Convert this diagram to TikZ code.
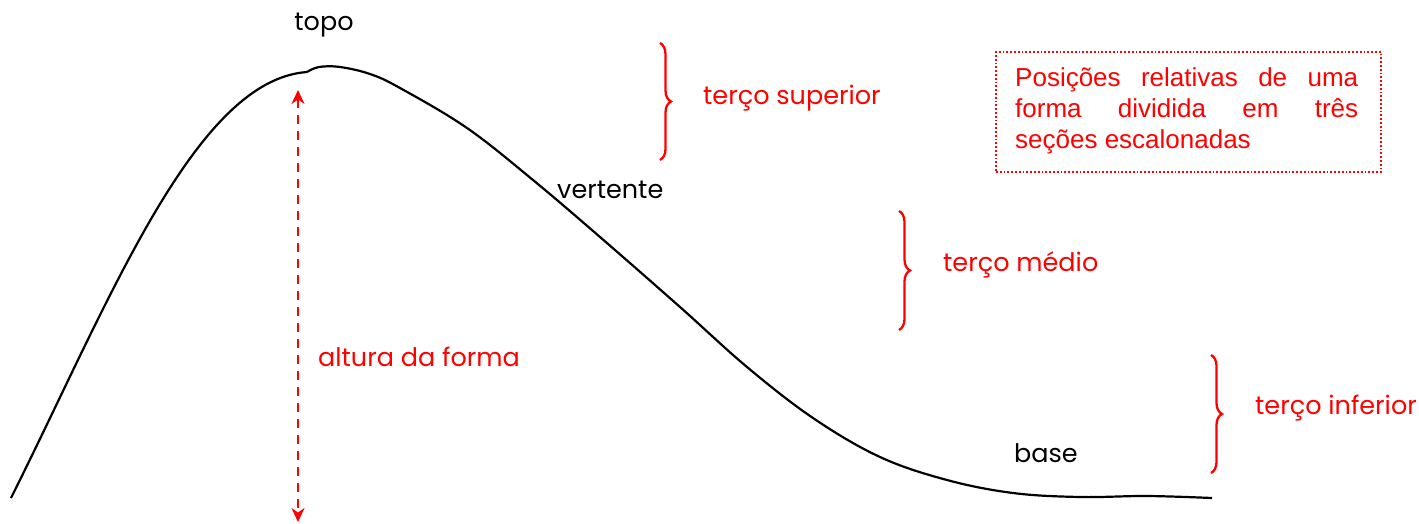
\documentclass[tikz,border=0pt]{standalone}
\usepackage{fontspec}
\setmainfont{Liberation Sans}
\newfontfamily\gothic{Poppins}
\usetikzlibrary{arrows.meta,decorations.pathreplacing}
\definecolor{lred}{RGB}{255,0,0}
\tikzset{
  lbl/.style={font=\gothic\fontsize{25.5}{28}\selectfont, inner sep=0pt},
  redlbl/.style={lbl, text=lred, anchor=west},
  bracestyle/.style={draw=lred, line width=2.3pt, decorate, decoration={brace, amplitude=11pt}},
  curve/.style={draw=black, line width=2.2pt, line join=round},
}
\begin{document}
\begin{tikzpicture}[x=1pt,y=-1pt]
\useasboundingbox (0,0) rectangle (1419,523);
% shape outline
\coordinate (start) at (11,498);
\coordinate (kink) at (307,72);
\draw[curve] (start) .. controls (110,300) and (195,80) .. (kink);
\draw[curve] plot[smooth, tension=0.6] coordinates {(307,72) (319,67) (340,67) (370,74) (400,88) (467,128) (533,180) (600,237) (680,307) (747,367) (813,418) (880,457) (947,480) (1013,493) (1080,497) (1147,496) (1212,498)};
% height arrow
\coordinate (atop) at (298,90);
\coordinate (abot) at (298,522);
\draw[lred, line width=2.6pt, dash pattern=on 9pt off 7pt, {Stealth[length=14pt,width=13pt]}-{Stealth[length=14pt,width=13pt]}] (atop) -- (abot);
% labels
\node[lbl, anchor=base] (topo) at (324,30) {topo};
\node[lbl, anchor=base west] (vert) at (557,198) {vertente};
\node[lbl, anchor=base west] (base) at (1014,462) {base};
\node[redlbl, anchor=base west] (alt) at (318,366) {altura da forma};
% braces
\coordinate (b1t) at (660,43); \coordinate (b1b) at (660,160);
\draw[bracestyle] (b1t) -- (b1b);
\node[redlbl, anchor=base west] (ts) at (703,104) {terço superior};
\coordinate (b2t) at (899,211); \coordinate (b2b) at (899,330);
\draw[bracestyle] (b2t) -- (b2b);
\node[redlbl, anchor=base west] (tm) at (943,271) {terço médio};
\coordinate (b3t) at (1211,355); \coordinate (b3b) at (1211,473);
\draw[bracestyle] (b3t) -- (b3b);
\node[redlbl, anchor=base west] (ti) at (1255,414) {terço inferior};
% text box
\node[draw=lred, dotted, line width=1.8pt, anchor=north west, minimum width=385pt, minimum height=120pt, inner sep=0pt] (box) at (995,51) {};
\node[anchor=north west, inner sep=0pt, text width=343pt, text=lred, font=\fontsize{26}{31}\selectfont, align=justify] (boxtext) at (1015,67) {Posições relativas de uma\linebreak forma dividida em três\linebreak seções escalonadas};
\end{tikzpicture}
\end{document}
